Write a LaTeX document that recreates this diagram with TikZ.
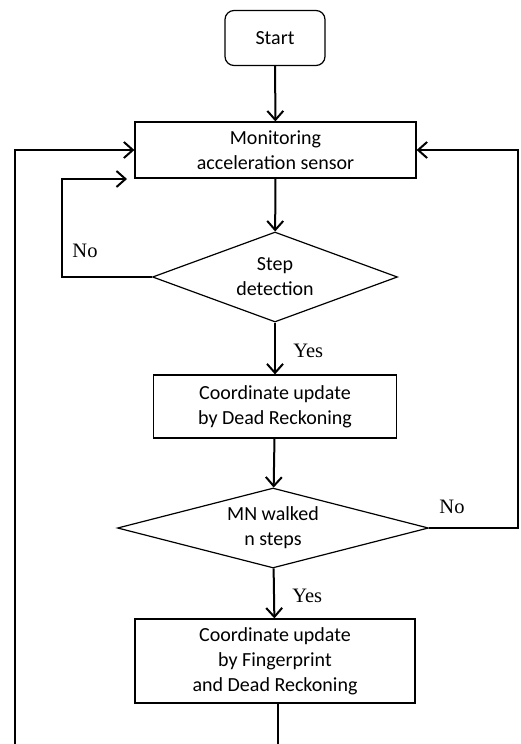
\documentclass[tikz,border=0pt]{standalone}
\usepackage{fontspec}
\setmainfont{Liberation Serif}
\newfontfamily\boxfont{Carlito}
\usetikzlibrary{arrows.meta, positioning, shapes.geometric}
\tikzset{
    process_node/.style={
        draw=black,
        line width=1.2pt,
        rectangle,
        align=center,
        inner sep=0pt,
        font=\boxfont\fontsize{20}{25}\selectfont
    },
    start_node/.style={
        process_node,
        rounded corners=9pt
    },
    decision_node/.style={
        draw=black,
        line width=1.2pt,
        diamond,
        aspect=2.7,
        inner sep=0pt,
        align=center,
        font=\boxfont\fontsize{20}{25}\selectfont
    },
    flow_arrow/.style={
        -{Straight Barb[length=9pt,width=16pt,line width=2pt]},
        line width=2pt,
        draw=black
    },
    flow_line/.style={
        line width=2pt,
        draw=black
    },
    answer_label/.style={
        font=\fontsize{20.5}{22}\selectfont
    }
}
\begin{document}
\begin{tikzpicture}[x=1pt, y=-1pt]
\useasboundingbox (0,0) rectangle (520,744);

% Start
\node[start_node, minimum width=100pt, minimum height=55pt] (start) at (275,38) {Start};

% Monitoring box
\node[process_node, minimum width=281pt, minimum height=56pt] (monitor) at (275.5,150) {Monitoring\\acceleration sensor};

% Step detection
\node[decision_node, minimum width=245pt, minimum height=90pt] (stepdet) at (275,277) {Step\\detection};

% Dead reckoning box
\node[process_node, minimum width=243pt, minimum height=63pt] (deadreck) at (275,406.5) {Coordinate update\\by Dead Reckoning};

% MN walked n steps
\node[decision_node, minimum width=311pt, minimum height=80pt] (walked) at (273,528) {MN walked\\n steps};

% Fingerprint box
\node[process_node, minimum width=280pt, minimum height=84pt] (fingerprint) at (275,661) {Coordinate update\\by Fingerprint\\and Dead Reckoning};

% Helper points for the loops
\coordinate (noloop) at (62,277);
\coordinate (noend) at (127,179);
\coordinate (rightturn) at (518,528);
\coordinate (bottomend) at (278,745);
\coordinate (leftstart) at (15,745);

% Main flow
\draw[flow_arrow] (start) -- (monitor);
\draw[flow_arrow] (monitor) -- (stepdet);
\draw[flow_arrow] (stepdet) -- (deadreck) node[midway, right, xshift=14pt, yshift=-2pt, answer_label] {Yes};
\draw[flow_arrow] (deadreck) -- (walked);
\draw[flow_arrow] (walked) -- (fingerprint) node[midway, right, xshift=14pt, yshift=-2pt, answer_label] {Yes};

% Step not detected
\draw[flow_arrow] (stepdet.west) -- (noloop) |- (noend);
\node[answer_label] (nostep) at (85,251) {No};

% Not enough steps
\draw[flow_arrow] (walked.east) -- (rightturn) |- (monitor.east);
\node[answer_label] (nowalk) at (452,507) {No};

% Back from fingerprint update
\draw[flow_line] ([xshift=3pt]fingerprint.south) -- (bottomend);
\draw[flow_arrow] (leftstart) |- (monitor.west);

\end{tikzpicture}
\end{document}
